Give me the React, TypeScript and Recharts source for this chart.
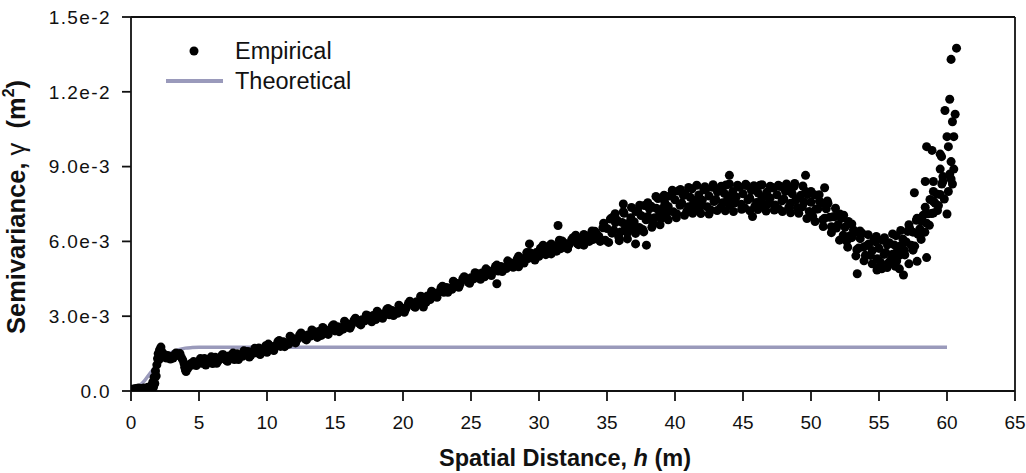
import React from "react"
import { ComposedChart, Scatter, Line, XAxis, YAxis, ZAxis, ReferenceLine, Legend, Label } from "recharts"

// lag distance h (m) and semivariance in units of 1e-3 m^2
const nearOrigin: [number, number][] = [
    [0.05, 0.03], [0.15, 0.08], [0.25, 0.05], [0.35, 0.1], [0.45, 0.06], [0.55, 0.12], [0.65, 0.08], [0.75, 0.1],
    [0.85, 0.06], [0.95, 0.12], [1.05, 0.1], [1.15, 0.08], [1.25, 0.15], [1.35, 0.1], [1.45, 0.18], [1.55, 0.22],
    [1.6, 0.35], [1.65, 0.15], [1.7, 0.55], [1.75, 0.3], [1.8, 0.8], [1.85, 0.6], [1.9, 1.05], [1.95, 1.3],
    [2.0, 1.5], [2.05, 1.25], [2.1, 1.65], [2.15, 1.45], [2.2, 1.76], [2.25, 1.6], [2.3, 1.5], [2.4, 1.38],
    [2.5, 1.45], [2.6, 1.32], [2.7, 1.42], [2.8, 1.36], [2.9, 1.28], [3.0, 1.38], [3.1, 1.32], [3.2, 1.45],
    [3.3, 1.52], [3.4, 1.48], [3.5, 1.42], [3.6, 1.5], [3.7, 1.35], [3.8, 1.25], [3.9, 1.1], [3.95, 0.95],
    [4.0, 0.85], [4.05, 0.78], [4.1, 0.88], [4.15, 1.0], [4.2, 0.92], [4.3, 1.05], [4.4, 1.1], [4.5, 1.04],
]

const linearRise: [number, number][] = [
    [4.6, 1.18], [4.8, 1.02], [5.0, 1.17], [5.2, 1.11], [5.4, 1.3], [5.6, 1.18], [5.8, 1.27], [6.0, 1.1],
    [6.2, 1.35], [6.4, 1.2], [6.6, 1.29], [6.8, 1.45], [7.0, 1.24], [7.2, 1.4], [7.4, 1.34], [7.6, 1.26],
    [7.8, 1.49], [8.0, 1.43], [8.2, 1.39], [8.4, 1.58], [8.6, 1.58], [8.8, 1.42], [9.0, 1.58], [9.2, 1.53],
    [9.4, 1.72], [9.6, 1.61], [9.8, 1.71], [10.0, 1.55], [10.2, 1.82], [10.4, 1.69], [10.6, 1.8], [10.8, 1.98],
    [11.0, 1.79], [11.2, 1.97], [11.4, 1.93], [11.6, 1.88], [11.8, 2.13], [12.0, 2.09], [12.2, 2.05], [12.4, 2.25],
    [12.6, 2.25], [12.8, 2.09], [13.0, 2.25], [13.2, 2.2], [13.4, 2.4], [13.6, 2.28], [13.8, 2.39], [14.0, 2.23],
    [14.2, 2.49], [14.4, 2.35], [14.6, 2.44], [14.8, 2.61], [15.0, 2.41], [15.2, 2.58], [15.4, 2.54], [15.6, 2.48],
    [15.8, 2.72], [16.0, 2.68], [16.2, 2.64], [16.4, 2.84], [16.6, 2.85], [16.8, 2.7], [17.0, 2.86], [17.2, 2.82],
    [17.4, 3.02], [17.6, 2.91], [17.8, 3.03], [18.0, 2.87], [18.2, 3.13], [18.4, 2.99], [18.6, 3.09], [18.8, 3.26],
    [19.0, 3.06], [19.2, 3.23], [19.4, 3.18], [19.6, 3.12], [19.8, 3.36], [20.0, 3.31],
    [5.1, 1.3], [5.5, 1.04], [5.9, 1.37], [6.3, 1.11], [6.7, 1.45], [7.1, 1.19], [7.5, 1.52], [7.9, 1.26],
    [8.3, 1.61], [8.7, 1.36], [9.1, 1.71], [9.5, 1.46], [9.9, 1.81],
]

const steadyRise: [number, number][] = [
    [20.2, 3.29], [20.4, 3.51], [20.6, 3.53], [20.8, 3.4], [21.0, 3.58], [21.2, 3.55], [21.4, 3.77], [21.6, 3.68],
    [21.8, 3.81], [22.0, 3.67], [22.2, 3.95], [22.4, 3.83], [22.6, 3.95], [22.8, 4.14], [23.0, 3.96], [23.2, 4.15],
    [23.4, 4.12], [23.6, 4.08], [23.8, 4.34], [24.0, 4.31], [24.2, 4.29], [24.4, 4.5], [24.6, 4.51], [24.8, 4.37],
    [25.0, 4.54], [25.2, 4.5], [25.4, 4.71], [25.6, 4.61], [25.8, 4.73], [26.0, 4.58], [26.2, 4.84], [26.4, 4.71],
    [26.6, 4.82], [26.8, 5.0], [27.0, 4.81], [27.2, 4.99], [27.4, 4.95], [27.6, 4.91], [27.8, 5.16], [28.0, 5.12],
    [28.2, 5.09], [28.4, 5.3], [28.6, 5.32], [28.8, 5.18], [29.0, 5.35], [29.2, 5.31], [29.4, 5.52], [29.6, 5.43],
    [29.8, 5.55], [30.0, 5.4], [30.2, 5.67], [30.4, 5.55], [30.6, 5.66], [30.8, 5.84], [31.0, 5.64], [31.2, 5.81],
    [31.4, 5.77], [31.6, 5.71], [31.8, 5.95], [32.0, 5.9], [32.2, 5.86], [32.4, 6.07], [32.6, 6.07], [32.8, 5.92],
    [33.0, 6.08], [33.2, 6.03], [33.4, 6.24], [33.6, 6.13], [33.8, 6.24], [34.0, 6.08], [34.2, 6.34], [34.4, 6.21],
    [21.5, 3.37], [26.9, 4.3], [28.5, 4.98], [29.1, 5.55], [29.3, 5.9], [29.7, 5.25], [30.3, 5.85], [30.9, 5.5],
    [31.4, 6.64], [31.5, 6.05], [32.1, 5.7], [32.7, 6.25], [33.3, 5.85], [33.9, 6.42], [34.5, 6.0], [34.7, 6.55],
    [35.4, 6.96],
]

const riseSpread: [number, number][] = [
    [10.1, 1.88], [10.5, 1.62], [10.9, 2.02], [11.3, 1.78], [11.7, 2.2], [12.1, 1.93], [12.5, 2.33], [12.9, 2.05],
    [13.3, 2.45], [13.7, 2.15], [14.1, 2.55], [14.5, 2.27], [14.9, 2.66], [15.3, 2.38], [15.7, 2.8], [16.1, 2.52],
    [16.5, 2.92], [16.9, 2.65], [17.3, 3.05], [17.7, 2.78], [18.1, 3.2], [18.5, 2.92], [18.9, 3.31], [19.3, 3.03],
    [19.7, 3.44], [20.1, 3.16], [20.5, 3.6], [20.9, 3.36], [21.3, 3.8], [21.7, 3.56], [22.1, 4.0], [22.5, 3.76],
    [22.9, 4.2], [23.3, 3.96], [23.7, 4.4], [24.1, 4.16], [24.5, 4.58], [24.9, 4.32], [25.3, 4.74], [25.7, 4.48],
    [26.1, 4.9], [26.5, 4.63], [26.9, 5.05], [27.3, 4.79], [27.7, 5.22], [28.1, 4.96], [28.5, 5.4], [28.9, 5.13],
    [29.3, 5.55], [29.7, 5.3], [30.1, 5.72], [30.5, 5.47], [30.9, 5.9], [31.3, 5.61], [31.7, 6.02], [32.1, 5.74],
    [32.5, 6.15], [32.9, 5.87], [33.3, 6.28], [33.7, 6.0], [34.1, 6.41],
]

const plateau: [number, number][] = [
    [34.75, 6.73], [34.87, 6.05], [35.0, 6.52], [35.12, 5.96], [35.25, 6.9], [35.37, 6.33], [35.5, 6.45], [35.62, 6.76],
    [35.75, 6.85], [35.87, 6.17], [36.0, 6.38], [36.12, 6.76], [36.25, 7.13], [36.37, 6.57], [36.5, 6.34], [36.62, 6.74],
    [36.75, 6.95], [36.87, 6.49], [37.0, 6.78], [37.12, 7.2], [37.25, 7.24], [37.37, 6.56], [37.5, 7.04], [37.62, 6.48],
    [37.75, 7.44], [37.87, 6.87], [38.0, 7.0], [38.12, 7.31], [38.25, 7.41], [38.37, 6.73], [38.5, 6.95], [38.62, 7.33],
    [38.75, 7.72], [38.87, 7.16], [39.0, 6.94], [39.12, 7.34], [39.25, 7.56], [39.37, 7.1], [39.5, 7.4], [39.62, 7.82],
    [39.75, 7.87], [39.87, 7.19], [40.0, 7.67], [40.12, 7.11], [40.25, 8.02], [40.37, 7.45], [40.5, 7.53], [40.62, 7.84],
    [40.75, 7.9], [40.87, 7.22], [41.0, 7.39], [41.12, 7.77], [41.25, 8.11], [41.37, 7.55], [41.5, 7.28], [41.62, 7.68],
    [41.75, 7.86], [41.87, 7.4], [42.0, 7.65], [42.12, 8.07], [42.25, 8.07], [42.37, 7.39], [42.5, 7.82], [42.62, 7.26],
    [42.75, 8.17], [42.87, 7.6], [43.0, 7.68], [43.12, 7.99], [43.25, 8.05], [43.37, 7.37], [43.5, 7.55], [43.62, 7.93],
    [43.75, 8.26], [43.87, 7.7], [44.0, 7.44], [44.12, 7.84], [44.25, 8.0], [44.37, 7.54], [44.5, 7.78], [44.62, 8.2],
    [44.75, 8.17], [44.87, 7.49], [45.0, 7.91], [45.12, 7.35], [45.25, 8.24], [45.37, 7.67], [45.5, 7.73], [45.62, 8.04],
    [45.75, 8.08], [45.87, 7.4], [46.0, 7.56], [46.12, 7.94], [46.25, 8.25], [46.37, 7.69], [46.5, 7.41], [46.62, 7.81],
    [46.75, 7.97], [46.87, 7.51], [47.0, 7.74], [47.12, 8.16], [47.25, 8.14], [47.37, 7.46], [47.5, 7.87], [47.62, 7.31],
    [36.2, 7.5], [37.1, 5.9], [37.9, 5.85], [44.0, 8.65], [45.7, 7.0],
]

const dipAndTail: [number, number][] = [
    [47.75, 8.2], [47.87, 7.63], [48.0, 7.7], [48.12, 8.01], [48.25, 8.05], [48.37, 7.37], [48.5, 7.53], [48.62, 7.91],
    [48.75, 8.2], [48.87, 7.64], [49.0, 7.34], [49.12, 7.74], [49.25, 7.85], [49.37, 7.39], [49.5, 7.58], [49.62, 8.0],
    [49.75, 7.88], [49.87, 7.2], [50.0, 7.57], [50.12, 7.01], [50.25, 7.87], [50.37, 7.3], [50.5, 7.3], [50.62, 7.61],
    [50.75, 7.55], [50.87, 6.87], [51.0, 6.93], [51.12, 7.31], [51.25, 7.53], [51.37, 6.97], [51.5, 6.59], [51.62, 6.99],
    [51.75, 7.0], [51.87, 6.54], [52.0, 6.68], [52.12, 7.1], [52.25, 6.93], [52.37, 6.25], [52.5, 6.57], [52.62, 6.01],
    [52.75, 6.8], [52.87, 6.23], [53.0, 6.15], [53.12, 6.46], [53.25, 6.35], [53.37, 5.67], [53.5, 5.73], [53.62, 6.11],
    [53.75, 6.33], [53.87, 5.77], [54.0, 5.44], [54.12, 5.84], [54.25, 5.9], [54.37, 5.44], [54.5, 5.63], [54.62, 6.05],
    [54.75, 5.98], [54.87, 5.3], [55.0, 5.72], [55.12, 5.16], [55.25, 6.05], [55.37, 5.48], [55.5, 5.55], [55.62, 5.86],
    [55.75, 5.95], [55.87, 5.27], [56.0, 5.48], [56.12, 5.86], [56.25, 6.23], [56.37, 5.67], [56.5, 5.44], [56.62, 5.84],
    [56.75, 6.1], [56.87, 5.64], [57.0, 5.98], [57.12, 6.4], [57.25, 6.53], [57.37, 5.85], [57.5, 6.37], [57.62, 5.81],
    [57.75, 6.85], [57.87, 6.28], [58.0, 6.5], [58.12, 6.81], [58.25, 7.05], [58.37, 6.37], [58.5, 6.73], [58.62, 7.11],
    [58.75, 7.68], [58.87, 7.12], [59.0, 7.14], [59.12, 7.54], [59.25, 7.9], [59.37, 7.44], [59.5, 7.88], [59.62, 8.3],
    [49.6, 8.65], [51.0, 8.15], [53.4, 4.7], [54.85, 4.85], [55.2, 4.9], [55.6, 4.95], [56.2, 5.0], [56.5, 4.9],
    [56.8, 4.65], [57.2, 5.1], [57.8, 5.2], [58.5, 5.35],
]

const plateauSpread: [number, number][] = [
    [35.6, 7.11], [35.9, 6.03], [36.2, 7.19], [36.5, 6.1], [36.8, 7.36], [37.1, 6.32], [37.4, 7.45], [37.7, 6.38],
    [38.0, 7.55], [38.3, 6.57], [38.6, 7.8], [38.9, 6.67], [39.2, 7.85], [39.5, 6.87], [39.8, 8.05], [40.1, 6.95],
    [40.4, 8.08], [40.7, 7.05], [41.0, 8.16], [41.3, 7.13], [41.6, 8.25], [41.9, 7.12], [42.2, 8.19], [42.5, 7.1],
    [42.8, 8.27], [43.1, 7.24], [43.4, 8.21], [43.7, 7.23], [44.0, 8.3], [44.3, 7.2], [44.6, 8.25], [44.9, 7.29],
    [45.2, 8.29], [45.5, 7.23], [45.8, 8.23], [46.1, 7.28], [46.4, 8.27], [46.7, 7.22], [47.0, 8.21], [47.3, 7.26],
    [47.6, 8.25], [47.9, 7.2], [48.2, 8.3], [48.5, 7.15], [48.8, 8.32], [49.1, 7.13], [49.4, 8.22], [49.7, 6.92],
    [50.0, 8.0], [50.3, 6.8], [50.6, 7.87], [50.9, 6.6], [51.2, 7.62], [51.5, 6.35], [51.8, 7.33], [52.1, 6.05],
    [52.4, 7.05], [52.7, 5.77], [53.0, 6.7], [53.3, 5.42], [53.6, 6.42], [53.9, 5.22], [54.2, 6.27], [54.5, 5.1],
    [54.8, 6.2], [55.1, 5.05], [55.4, 6.15], [55.7, 5.14], [56.0, 6.3], [56.3, 5.21], [56.6, 6.44], [56.9, 5.46],
    [57.2, 6.67], [57.5, 5.65], [57.8, 6.93], [58.1, 6.08], [58.4, 7.37], [58.7, 6.65], [59.0, 8.0], [59.3, 7.24],
]

const farTail: [number, number][] = [
    [57.6, 7.95], [58.4, 8.4], [58.5, 9.8], [58.9, 9.65], [59.0, 8.4], [59.0, 7.6], [59.5, 9.5], [59.6, 9.4],
    [59.5, 8.9], [59.7, 8.4], [59.7, 8.6], [59.8, 7.7], [59.85, 11.25], [60.0, 10.2], [60.0, 7.1], [60.1, 9.8],
    [60.1, 8.0], [60.2, 11.7], [60.2, 8.7], [60.3, 8.5], [60.3, 9.2], [60.3, 13.3], [60.4, 10.8], [60.4, 8.3],
    [60.5, 10.2], [60.5, 8.9], [60.6, 11.1], [60.7, 13.75],
]

// fitted model curve
const theoreticalH = [0, 0.5, 1, 1.5, 2, 2.5, 3, 3.5, 4, 4.5, 5, 6, 60]
const theoreticalG = [0, 0.15, 0.42, 0.78, 1.08, 1.36, 1.55, 1.66, 1.72, 1.74, 1.75, 1.75, 1.75]

const xTicks = [0, 5, 10, 15, 20, 25, 30, 35, 40, 45, 50, 55, 60, 65]
const yTicks = [0, 3, 6, 9, 12, 15]
const yTickLabels = ["0.0", "3.0e-3", "6.0e-3", "9.0e-3", "1.2e-2", "1.5e-2"]

const empirical = [
    ...nearOrigin, ...linearRise, ...riseSpread, ...steadyRise,
    ...plateau, ...plateauSpread, ...dipAndTail, ...farTail,
].map(([h, g]) => ({ h, g }))
const theoretical = theoreticalH.map((h, i) => ({ h, g: theoreticalG[i] }))

const FONT = "'Liberation Sans', Arial, sans-serif"
const INK = "#111"
const MODEL = "#9a9abb"

const LegendBox = () => (
    <div style={{ fontFamily: FONT, fontSize: 23.5, color: INK }}>
        <div style={{ display: "flex", alignItems: "center", height: 30 }}>
            <svg width={77} height={30}><circle cx={36} cy={15} r={4.5} fill="#000" /></svg>
            <span>Empirical</span>
        </div>
        <div style={{ display: "flex", alignItems: "center", height: 30 }}>
            <svg width={77} height={30}><line x1={8} x2={65} y1={15} y2={15} stroke={MODEL} strokeWidth={4} /></svg>
            <span>Theoretical</span>
        </div>
    </div>
)

const XTitle = () => (
    <text x={565} y={466} textAnchor="middle" fontFamily={FONT} fontSize={23.5} fontWeight="bold" fill={INK}>
        Spatial Distance, <tspan fontStyle="italic">h</tspan> (m)
    </text>
)

const YTitle = () => (
    <text x={25} y={207} transform="rotate(-90, 25, 207)" textAnchor="middle" fontFamily={FONT} fontSize={25.5} fontWeight="bold" fill={INK}>
        Semivariance, <tspan fontWeight="normal">γ</tspan>{"\u00a0 "}(m<tspan fontSize={16} dy={-11}>2</tspan><tspan dy={11}>)</tspan>
    </text>
)

export default function App() {
    return (
        <div style={{ position: "fixed", left: 0, top: 0, background: "#fff" }}>
            <ComposedChart width={1026} height={473} margin={{ top: 17, right: 11, bottom: 0, left: 0 }}>
                <XAxis type="number" dataKey="h" domain={[0, 65]} ticks={xTicks} allowDataOverflow
                    tickSize={10} tickMargin={15} stroke={INK} strokeWidth={1.8} height={82}
                    tick={{ fontFamily: FONT, fontSize: 19, fill: INK }}>
                    <Label content={<XTitle />} />
                </XAxis>
                <YAxis type="number" dataKey="g" domain={[0, 15]} ticks={yTicks} allowDataOverflow
                    tickFormatter={(v: number) => yTickLabels[yTicks.indexOf(v)]}
                    tickSize={9} tickMargin={11} stroke={INK} strokeWidth={1.8} width={131}
                    tick={{ fontFamily: FONT, fontSize: 19, fill: INK, letterSpacing: 1.4 }}>
                    <Label content={<YTitle />} />
                </YAxis>
                <ZAxis range={[64, 64]} />
                <ReferenceLine y={15} stroke={INK} strokeWidth={1.8} />
                <ReferenceLine x={65} stroke={INK} strokeWidth={1.8} />
                <Scatter name="Empirical" data={empirical} dataKey="g" fill="#000" isAnimationActive={false} />
                <Line name="Theoretical" data={theoretical} dataKey="g" type="monotone" dot={false}
                    stroke={MODEL} strokeWidth={3.5} isAnimationActive={false} />
                <Legend layout="vertical" align="center" verticalAlign="middle" content={<LegendBox />}
                    wrapperStyle={{ left: 158, top: 36, width: "auto" }} />
            </ComposedChart>
        </div>
    )
}
